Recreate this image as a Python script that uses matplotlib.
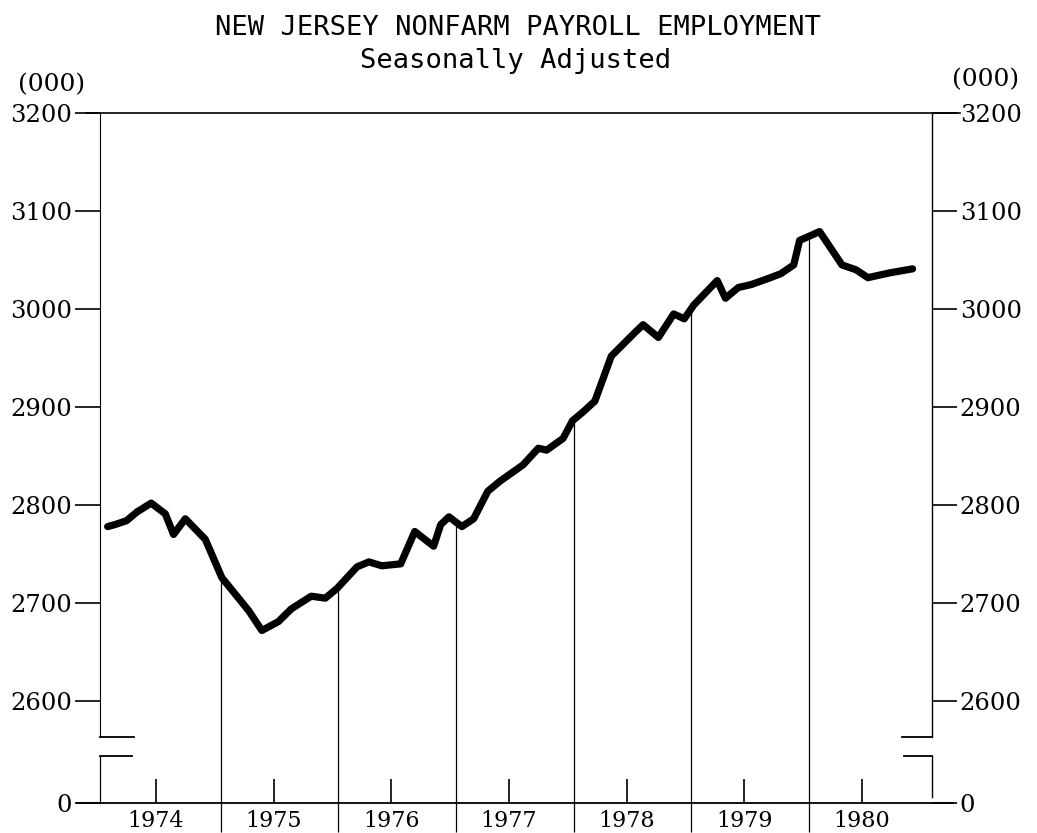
import numpy as np
import matplotlib
from matplotlib import pyplot as plt

matplotlib.use("Agg")

# data (thousands, seasonally adjusted)
dates = [1974.04, 1974.10, 1974.20, 1974.29, 1974.41, 1974.53, 1974.60, 1974.70, 1974.87,
         1975.01, 1975.24, 1975.35, 1975.49, 1975.60, 1975.77, 1975.89, 1975.99,
         1976.09, 1976.16, 1976.26, 1976.37, 1976.53, 1976.65, 1976.81, 1976.87, 1976.94,
         1977.05, 1977.15, 1977.27, 1977.37, 1977.57, 1977.70, 1977.77, 1977.91, 1977.99,
         1978.08, 1978.18, 1978.32, 1978.52, 1978.59, 1978.72, 1978.85, 1978.94,
         1979.02, 1979.22, 1979.29, 1979.40, 1979.51, 1979.65, 1979.76, 1979.87, 1979.92,
         1980.09, 1980.28, 1980.40, 1980.50, 1980.69, 1980.88]
values = [2778, 2780, 2784, 2793, 2802, 2791, 2770, 2786, 2765,
          2726, 2692, 2672, 2681, 2694, 2707, 2705, 2715,
          2728, 2737, 2742, 2738, 2740, 2773, 2758, 2780, 2788,
          2778, 2786, 2814, 2824, 2841, 2858, 2856, 2868, 2886,
          2895, 2906, 2952, 2976, 2984, 2971, 2995, 2990,
          3004, 3029, 3011, 3022, 3025, 3031, 3036, 3045, 3070,
          3079, 3045, 3040, 3032, 3037, 3041]
years = [1974, 1975, 1976, 1977, 1978, 1979, 1980]
y_ticks = [0, 2600, 2700, 2800, 2900, 3000, 3100, 3200]


# broken axis: squeeze 0..2550 into a short strip under 2550
def fwd(v):
    v = np.asarray(v, dtype=float)
    return np.where(v < 2550, 2496 + v * 54 / 2550, v)


def inv(u):
    u = np.asarray(u, dtype=float)
    return np.where(u < 2550, (u - 2496) * 2550 / 54, u)


SERIF = "DejaVu Serif"
MONO = "DejaVu Sans Mono"

fig = plt.figure(figsize=(10.37, 8.33), dpi=100)
ax = fig.add_axes([100 / 1037, 30 / 833, 832 / 1037, 690 / 833])
ax.set_yscale("function", functions=(fwd, inv))
ax.set_xlim(1973.975, 1981.045)
ax.set_ylim(0, 3200)
for s in ax.spines.values():
    s.set_visible(False)

# the series
ax.plot(dates, values, color="black", lw=5.2, solid_joinstyle="round", solid_capstyle="round")

# january lines from the base up to the curve
bounds = years[1:]
tops = np.interp(bounds, dates, values)
ax.vlines(bounds, 0, tops, color="black", lw=0.9)

# y ticks on both sides
ax.set_yticks(y_ticks)
ax.set_yticklabels([str(v) for v in y_ticks])
ax.tick_params(axis="y", which="major", left=True, right=True, labelleft=True, labelright=True,
               direction="out", length=18, width=1.2, pad=2, labelsize=17.5)
for lab in ax.get_yticklabels():
    lab.set_family(SERIF)

# x ticks: year boundaries (out, no label) and mid-year (in, labelled)
ax.set_xticks(bounds)
ax.set_xticklabels([""] * len(bounds))
ax.set_xticks([y + 0.45 for y in years], minor=True)
ax.set_xticklabels([str(y) for y in years], minor=True)
ax.tick_params(axis="x", which="major", direction="out", length=21, width=0.9)
ax.tick_params(axis="x", which="minor", direction="in", length=17, width=1.2, pad=5, labelsize=16)
for lab in ax.get_xticklabels(minor=True):
    lab.set_family(SERIF)

# frame lines drawn by hand (axis breaks)
tr = ax.transAxes
hi, lo = 0.0957, 0.068
frame = [
    ([-0.017, 1.034], [1, 1], 1.2),       # top
    ([-0.028, 1.025], [0, 0], 1.3),       # base
    ([0, 0], [hi, 1], 0.8),               # left axis
    ([0, 0], [0, lo], 0.9),
    ([0, 0.041], [hi, hi], 1.3),          # left break
    ([0, 0.039], [lo, lo], 1.3),
    ([1, 1], [hi, 1], 1.0),               # right axis
    ([1, 1], [0.008, lo], 1.0),
    ([0.964, 1], [hi, hi], 1.3),          # right break
    ([0.966, 1], [lo, lo], 1.3),
]
for xs, ys, lw in frame:
    ax.plot(xs, ys, color="black", lw=lw, transform=tr, clip_on=False)

# titles and unit labels
fig.text(518 / 1037, 1 - 35 / 833, "NEW JERSEY NONFARM PAYROLL EMPLOYMENT",
         ha="center", va="baseline", family=MONO, fontsize=19.5)
fig.text(516 / 1037, 1 - 68 / 833, "Seasonally Adjusted",
         ha="center", va="baseline", family=MONO, fontsize=19.5)
fig.text(52 / 1037, 1 - 85 / 833, "(000)", ha="center", va="center", family=SERIF, fontsize=18)
fig.text(986 / 1037, 1 - 80 / 833, "(000)", ha="center", va="center", family=SERIF, fontsize=18)

fig.savefig("out.png", dpi=100, facecolor="white")
